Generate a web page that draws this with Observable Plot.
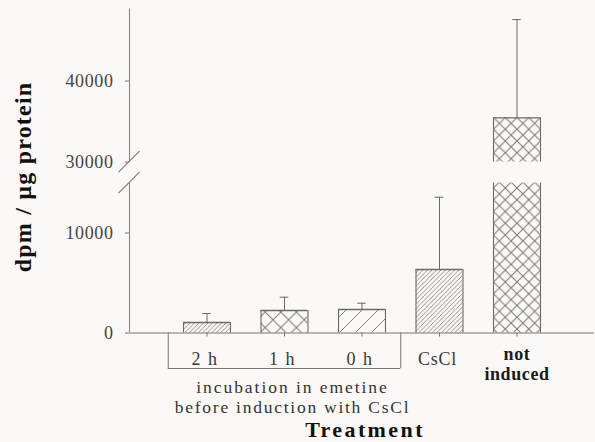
<!DOCTYPE html>
<html><head><meta charset="utf-8">
<script src="https://cdn.jsdelivr.net/npm/d3@7"></script>
<script src="https://cdn.jsdelivr.net/npm/@observablehq/plot@0.6"></script>
<style>
html,body{margin:0;padding:0;background:#fcf8f7;}
#chart svg{display:block;}
</style></head><body><div id="chart"></div>
<script>
// ---- data ----
const categories = ["2 h", "1 h", "0 h", "CsCl", "not induced"];
const values = [1050, 2250, 2350, 6350, 35460];       // bar heights (dpm / µg protein)
const errorTops = [1950, 3580, 2980, 13580, 47590];   // upper end of error bars
const yTicks = [0, 10000, 30000, 40000];
const groupLabel = "incubation in emetine\nbefore induction with CsCl";
const groupMembers = ["2 h", "1 h", "0 h"];
const xTitle = "Treatment";
const yTitle = "dpm / µg protein";
// broken y axis: lower segment 0..breakLow, upper segment breakHigh..yMax
const breakLow = 15000, breakHigh = 30000, yMax = 48900;
const gapSize = 2100;          // drawn size of the break, in lower-segment units
const upperCompression = 0.81; // upper segment drawn at 81% of the lower segment's scale

// piecewise mapping from data value to drawn axis position
const yPos = d3.scaleLinear()
  .domain([0, breakLow, breakHigh, yMax])
  .range([0, breakLow, breakLow + gapSize, breakLow + gapSize + (yMax - breakHigh) * upperCompression]);

// ---- styles ----
const patternIds = ["hatchDense", "crossWide", "hatchSparse", "hatchDense", "crossNarrow"];
const ink = "#6a6a6a";
const half = 0.303;

const data = categories.map((c, i) => ({cat: c, pos: i + 1, value: values[i], top: errorTops[i], pat: patternIds[i]}));
const segs = data.flatMap(d => d.value > breakLow
  ? [{...d, y1: 0, y2: breakLow}, {...d, y1: breakHigh, y2: d.value}]
  : [{...d, y1: 0, y2: d.value}]);
const members = data.filter(d => groupMembers.includes(d.cat));
const groupPos = d3.mean(members, d => d.pos);
const gMin = d3.min(members, d => d.pos) - 0.5;
const gMax = d3.max(members, d => d.pos) + 0.5;

function breakMarks(index, scales) {
  const g = d3.create("svg:g").attr("stroke", "#777").attr("stroke-width", 1.1);
  const x0 = scales.x(0);
  for (const v of [breakHigh, breakLow]) {
    const yy = scales.y(yPos(v));
    g.append("line").attr("x1", x0 - 10.5).attr("y1", yy + 10.5).attr("x2", x0 + 10.5).attr("y2", yy - 10.5);
  }
  return g.node();
}

const plot = Plot.plot({
  width: 595,
  height: 442,
  marginLeft: 129,
  marginRight: 1,
  marginTop: 8.5,
  marginBottom: 109.5,
  style: {fontFamily: "'Liberation Serif', serif", background: "transparent", color: "#333"},
  x: {domain: [0, categories.length + 1], axis: null},
  y: {domain: [0, yPos(yMax)], axis: null},
  marks: [
    // bars (pattern fill)
    ...data.map(d => Plot.rectY(segs.filter(s => s.cat === d.cat), {
      x1: s => s.pos - half, x2: s => s.pos + half, y1: s => yPos(s.y1), y2: s => yPos(s.y2),
      fill: `url(#${d.pat})`
    })),
    // bar outlines
    Plot.ruleX(segs, {x: s => s.pos - half, y1: s => yPos(s.y1), y2: s => yPos(s.y2), stroke: ink, strokeWidth: 1.1}),
    Plot.ruleX(segs, {x: s => s.pos + half, y1: s => yPos(s.y1), y2: s => yPos(s.y2), stroke: ink, strokeWidth: 1.1}),
    Plot.ruleY(data, {y: d => yPos(d.value), x1: d => d.pos - half, x2: d => d.pos + half, stroke: ink, strokeWidth: 1.3}),
    // error bars
    Plot.ruleX(data, {x: "pos", y1: d => yPos(d.value), y2: d => yPos(d.top), stroke: ink, strokeWidth: 1}),
    Plot.ruleY(data, {y: d => yPos(d.top), x1: d => d.pos - 0.055, x2: d => d.pos + 0.055, stroke: ink, strokeWidth: 1}),
    // baseline and small ticks under bars
    Plot.ruleY([0], {x1: 0, x2: categories.length + 1, stroke: "#777", strokeWidth: 1.1}),
    Plot.ruleX(data, {x: "pos", y1: 0, y2: 0, insetBottom: -4, stroke: "#777"}),
    // broken y axis line
    Plot.ruleX([0], {y1: yPos(0), y2: yPos(breakLow), stroke: "#888", strokeWidth: 1.1}),
    Plot.ruleX([0], {y1: yPos(breakHigh), y2: yPos(yMax), stroke: "#888", strokeWidth: 1.1}),
    Plot.axisY({ticks: yTicks.map(yPos), tickFormat: v => String(Math.round(yPos.invert(v))), tickSize: 4, tickPadding: 12,
      fontSize: 18, stroke: "#777", fill: "#444", label: null}),
    breakMarks,
    // bracket under incubation group
    Plot.ruleX([gMin, gMax], {y1: 0, y2: 0, insetBottom: -35.5, stroke: "#777"}),
    Plot.ruleY([0], {x1: gMin, x2: gMax, dy: 35.5, stroke: "#777"}),
    // category labels
    Plot.text(data.filter(d => d.cat !== "not induced"), {x: "pos", text: "cat", frameAnchor: "bottom", lineAnchor: "middle",
      dy: 26, dx: -2, fontSize: 18, fill: "#3a3a3a"}),
    Plot.text(data.filter(d => d.cat === "not induced"), {x: "pos", text: d => d.cat.replace(" ", "\n"), frameAnchor: "bottom",
      lineAnchor: "middle", dy: 30.5, fontSize: 18, fontWeight: "bold", lineHeight: 1.12, fill: "#1a1a1a"}),
    Plot.text([groupLabel], {x: groupPos, frameAnchor: "bottom", lineAnchor: "middle", dy: 63.5, dx: 8, fontSize: 17.5,
      lineHeight: 1.16, fill: "#333"}),
    Plot.text([xTitle], {frameAnchor: "bottom", lineAnchor: "middle", dy: 97, dx: 3, fontSize: 22, fontWeight: "bold", fill: "#111"}),
    Plot.text([yTitle], {frameAnchor: "left", textAnchor: "middle", lineAnchor: "middle", rotate: -90, dx: -106, dy: 6,
      fontSize: 24, fontWeight: "bold", fill: "#111"})
  ]
});

// pattern definitions
const svg = d3.select(plot);
const defs = svg.insert("defs", ":first-child");
function hatch(id, s, sw) {
  const p = defs.append("pattern").attr("id", id).attr("patternUnits", "userSpaceOnUse").attr("width", s).attr("height", s);
  p.append("path").attr("d", `M0,${s}L${s},0M${-s/4},${s/4}L${s/4},${-s/4}M${s*3/4},${s*5/4}L${s*5/4},${s*3/4}`)
    .attr("stroke", "#777").attr("stroke-width", sw).attr("fill", "none");
}
function cross(id, s, sw) {
  const p = defs.append("pattern").attr("id", id).attr("patternUnits", "userSpaceOnUse").attr("width", s).attr("height", s);
  p.append("path").attr("d", `M0,0L${s},${s}M0,${s}L${s},0`)
    .attr("stroke", "#777").attr("stroke-width", sw).attr("fill", "none");
}
hatch("hatchDense", 4.5, 0.8);
hatch("hatchSparse", 16, 0.9);
cross("crossWide", 15.6, 1);
cross("crossNarrow", 11.75, 1);

// wider letter spacing, as in the scanned original
const spacing = new Map([
  ["incubation in emetine", 1.95], ["before induction with CsCl", 1.75], [xTitle, 2.4], [yTitle, 1.2],
  ["2 h", 1.5], ["1 h", 1.5], ["0 h", 1.5], ["CsCl", 0.8], ["not", 0.6], ["induced", 0.6],
  ["0", 0.6], ["10000", 0.6], ["30000", 0.6], ["40000", 0.6]
]);
svg.selectAll("text, tspan").each(function() {
  const t = this.textContent;
  if (spacing.has(t)) d3.select(this).attr("letter-spacing", spacing.get(t));
});

document.getElementById("chart").append(plot);
</script>
</body></html>
